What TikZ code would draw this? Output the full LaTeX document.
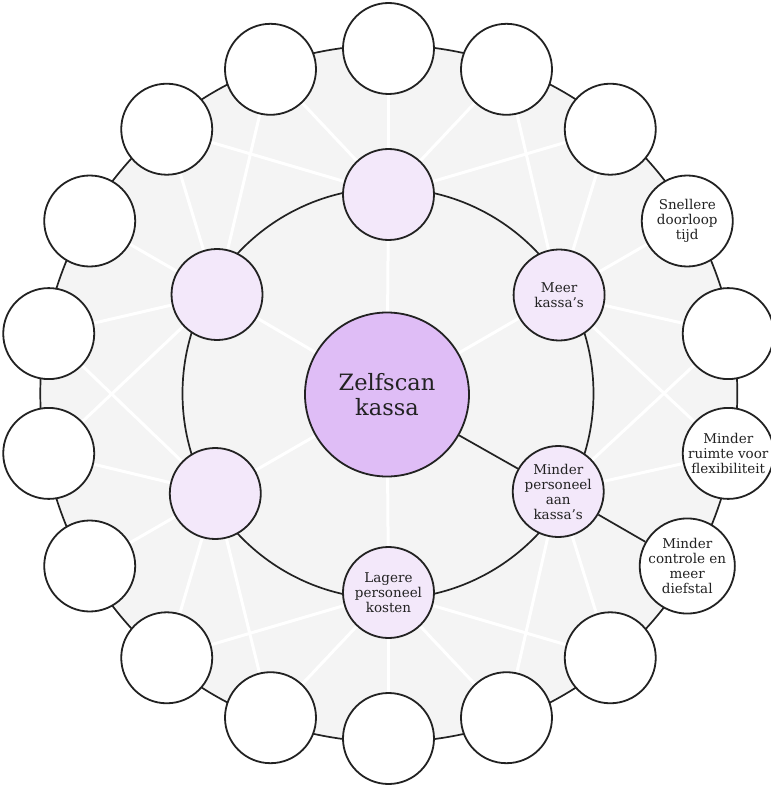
\documentclass[tikz,border=0pt]{standalone}
\usepackage{fontspec}
\setmainfont{DejaVu Serif}
\pgfdeclarelayer{back}
\pgfdeclarelayer{mid}
\pgfsetlayers{back,mid,main}
\definecolor{disk}{HTML}{F4F4F4}
\definecolor{cfill}{HTML}{DFBDF6}
\definecolor{ifill}{HTML}{F3E8FA}
\definecolor{ink}{HTML}{222222}
\begin{document}
\begin{tikzpicture}[x=1pt,y=1pt,
  outernode/.style={circle, draw=ink, line width=1.8pt, fill=white, minimum size=91pt, inner sep=0pt, align=center, font=\fontsize{13.5}{15}\selectfont, text=ink},
  innernode/.style={outernode, fill=ifill},
  centernode/.style={circle, draw=ink, line width=1.8pt, fill=cfill, minimum size=164pt, inner sep=0pt, align=center, font=\fontsize{22.5}{24.5}\selectfont, text=ink},
  spoke/.style={draw=white, line width=3pt},
  ringline/.style={draw=ink, line width=1.7pt},
  hl/.style={draw=ink, line width=1.7pt}]
\useasboundingbox (-388.5,-391.5) rectangle (382.5,393.5);
% center
\node[centernode] (c) at (-1.5,-1) {Zelfscan\\kassa};
% inner ring
\node[innernode] (i1) at (90:199) {};
\node[innernode] (i2) at (30:197) {Meer\\kassa’s};
\node[innernode] (i3) at (-30:196) {Minder\\personeel\\aan\\kassa’s};
\node[innernode] (i4) at (-90:199) {Lagere\\personeel\\kosten};
\node[innernode] (i5) at (-150:200) {};
\node[innernode] (i6) at (150:198) {};
% outer ring
\node[outernode] (o1) at (90:345) {};
\node[outernode] (o2) at (70:345) {};
\node[outernode] (o3) at (50:345) {};
\node[outernode] (o4) at (30:345) {Snellere\\doorloop\\tijd};
\node[outernode] (o5) at (10:345) {};
\node[outernode] (o6) at (-10:345) {Minder\\ruimte voor\\flexibiliteit};
\node[outernode] (o7) at (-30:345) {Minder\\controle en\\meer\\diefstal};
\node[outernode] (o8) at (-50:345) {};
\node[outernode] (o9) at (-70:345) {};
\node[outernode] (o10) at (-90:345) {};
\node[outernode] (o11) at (-110:345) {};
\node[outernode] (o12) at (-130:345) {};
\node[outernode] (o13) at (-150:345) {};
\node[outernode] (o14) at (-170:345) {};
\node[outernode] (o15) at (170:345) {};
\node[outernode] (o16) at (150:345) {};
\node[outernode] (o17) at (130:345) {};
\node[outernode] (o18) at (110:345) {};
\begin{pgfonlayer}{back}
  \fill[disk] (0.3,0) circle (348.5);
\end{pgfonlayer}
\begin{pgfonlayer}{mid}
  % spokes from centre
  \foreach \n in {i1,i2,i4,i5,i6} \draw[spoke] (c) -- (\n);
  % spokes from inner to outer
  \foreach \n in {o17,o18,o1,o2,o3} \draw[spoke] (i1) -- (\n);
  \foreach \n in {o2,o3,o4,o5,o6} \draw[spoke] (i2) -- (\n);
  \foreach \n in {o5,o6,o8,o9} \draw[spoke] (i3) -- (\n);
  \foreach \n in {o8,o9,o10,o11,o12} \draw[spoke] (i4) -- (\n);
  \foreach \n in {o11,o12,o13,o14,o15} \draw[spoke] (i5) -- (\n);
  \foreach \n in {o14,o15,o16,o17,o18} \draw[spoke] (i6) -- (\n);
  % rings
  \draw[ringline] (0.3,0) circle (348.5);
  \draw[ringline] (-0.5,0) circle (205.5);
\end{pgfonlayer}
% highlighted path
\draw[hl] (c) -- (i3);
\draw[hl] (i3) -- (o7);
\end{tikzpicture}
\end{document}
